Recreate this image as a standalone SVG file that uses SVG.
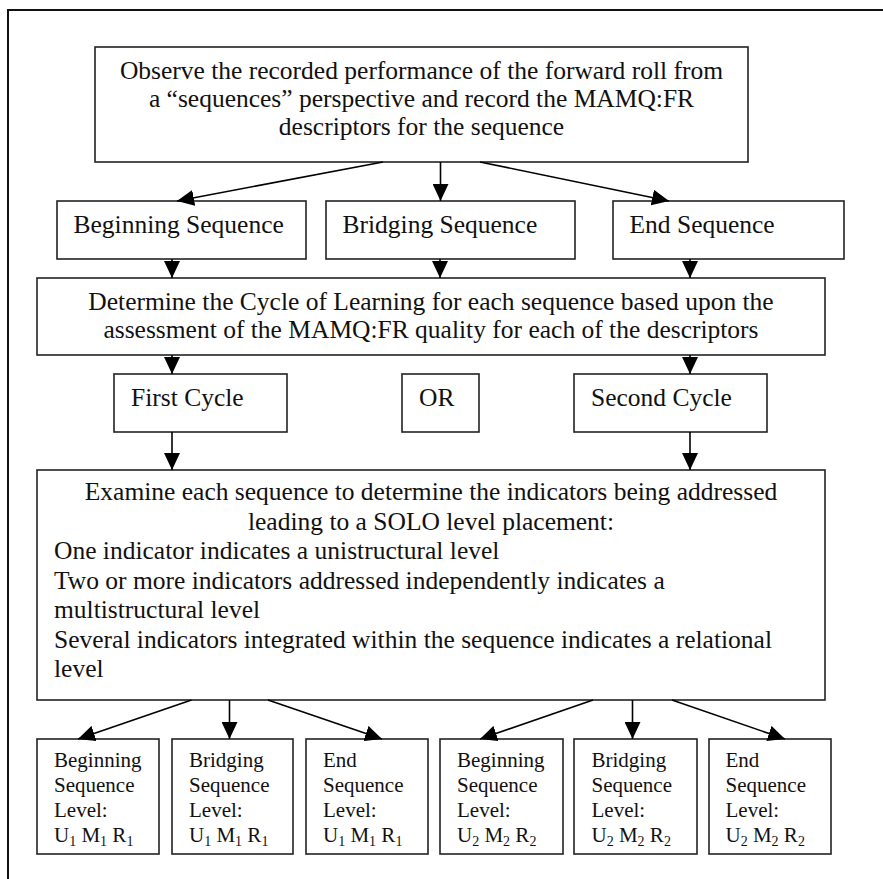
<svg xmlns="http://www.w3.org/2000/svg" width="883" height="879" viewBox="0 0 883 879">
<defs>
<marker id="ah" viewBox="0 0 17 16" markerUnits="userSpaceOnUse" markerWidth="17" markerHeight="16" refX="17" refY="8" orient="auto">
<path d="M0,0 L17,8 L0,16 z" fill="#000"/>
</marker>
<style>
.box{fill:#fff;stroke:#222;stroke-width:1.6}
.t{font-family:"Liberation Serif","Times New Roman",serif;font-size:25.5px;fill:#111}
.c{text-anchor:middle}
.s{font-family:"Liberation Serif","Times New Roman",serif;font-size:21px;fill:#111}
.sub{font-size:14px}
.arr{stroke:#000;stroke-width:1.6;fill:none;marker-end:url(#ah)}
</style>
</defs>
<rect width="883" height="879" fill="#fff"/>
<path d="M8,879 V10 H883" fill="none" stroke="#111" stroke-width="2"/>

<g id="observe">
<rect class="box" x="95" y="47" width="653" height="115"/>
<text class="t c" x="421.5" y="78.5">Observe the recorded performance of the forward roll from</text>
<text class="t c" x="421.5" y="106.8">a “sequences” perspective and record the MAMQ:FR</text>
<text class="t c" x="421.5" y="135">descriptors for the sequence</text>
</g>

<g id="beginning-seq">
<rect class="box" x="57" y="201" width="249" height="58"/>
<text class="t" x="73.5" y="232.7">Beginning Sequence</text>
</g>
<g id="bridging-seq">
<rect class="box" x="326" y="201" width="249" height="58"/>
<text class="t" x="342.5" y="232.7">Bridging Sequence</text>
</g>
<g id="end-seq">
<rect class="box" x="613" y="201" width="231" height="58"/>
<text class="t" x="629.5" y="232.7">End Sequence</text>
</g>

<g id="determine">
<rect class="box" x="37" y="278" width="788" height="77"/>
<text class="t c" x="431" y="310">Determine the Cycle of Learning for each sequence based upon the</text>
<text class="t c" x="431" y="338">assessment of the MAMQ:FR quality for each of the descriptors</text>
</g>

<g id="first-cycle">
<rect class="box" x="114" y="374" width="173" height="58"/>
<text class="t" x="131" y="406">First Cycle</text>
</g>
<g id="or">
<rect class="box" x="402" y="374" width="77" height="58"/>
<text class="t" x="419" y="406">OR</text>
</g>
<g id="second-cycle">
<rect class="box" x="574" y="374" width="193" height="58"/>
<text class="t" x="591" y="406">Second Cycle</text>
</g>

<g id="examine">
<rect class="box" x="37" y="470" width="788" height="230"/>
<text class="t c" x="431" y="500">Examine each sequence to determine the indicators being addressed</text>
<text class="t c" x="431" y="529.5">leading to a SOLO level placement:</text>
<text class="t" x="54" y="559">One indicator indicates a unistructural level</text>
<text class="t" x="54" y="588.5">Two or more indicators addressed independently indicates a</text>
<text class="t" x="54" y="618">multistructural level</text>
<text class="t" x="54" y="647.5">Several indicators integrated within the sequence indicates a relational</text>
<text class="t" x="54" y="677">level</text>
</g>

<g id="level-b1">
<rect class="box" x="37" y="739" width="122" height="115"/>
<text class="s" x="54" y="767">Beginning</text>
<text class="s" x="54" y="792">Sequence</text>
<text class="s" x="54" y="817">Level:</text>
<text class="s" x="54" y="842">U<tspan class="sub" dy="4">1</tspan><tspan dy="-4"> M</tspan><tspan class="sub" dy="4">1</tspan><tspan dy="-4"> R</tspan><tspan class="sub" dy="4">1</tspan></text>
</g>
<g id="level-br1">
<rect class="box" x="172" y="739" width="121" height="115"/>
<text class="s" x="189" y="767">Bridging</text>
<text class="s" x="189" y="792">Sequence</text>
<text class="s" x="189" y="817">Level:</text>
<text class="s" x="189" y="842">U<tspan class="sub" dy="4">1</tspan><tspan dy="-4"> M</tspan><tspan class="sub" dy="4">1</tspan><tspan dy="-4"> R</tspan><tspan class="sub" dy="4">1</tspan></text>
</g>
<g id="level-e1">
<rect class="box" x="306" y="739" width="122" height="115"/>
<text class="s" x="323" y="767">End</text>
<text class="s" x="323" y="792">Sequence</text>
<text class="s" x="323" y="817">Level:</text>
<text class="s" x="323" y="842">U<tspan class="sub" dy="4">1</tspan><tspan dy="-4"> M</tspan><tspan class="sub" dy="4">1</tspan><tspan dy="-4"> R</tspan><tspan class="sub" dy="4">1</tspan></text>
</g>
<g id="level-b2">
<rect class="box" x="440" y="739" width="123" height="115"/>
<text class="s" x="457" y="767">Beginning</text>
<text class="s" x="457" y="792">Sequence</text>
<text class="s" x="457" y="817">Level:</text>
<text class="s" x="457" y="842">U<tspan class="sub" dy="4">2</tspan><tspan dy="-4"> M</tspan><tspan class="sub" dy="4">2</tspan><tspan dy="-4"> R</tspan><tspan class="sub" dy="4">2</tspan></text>
</g>
<g id="level-br2">
<rect class="box" x="574" y="739" width="123" height="115"/>
<text class="s" x="591.5" y="767">Bridging</text>
<text class="s" x="591.5" y="792">Sequence</text>
<text class="s" x="591.5" y="817">Level:</text>
<text class="s" x="591.5" y="842">U<tspan class="sub" dy="4">2</tspan><tspan dy="-4"> M</tspan><tspan class="sub" dy="4">2</tspan><tspan dy="-4"> R</tspan><tspan class="sub" dy="4">2</tspan></text>
</g>
<g id="level-e2">
<rect class="box" x="709" y="739" width="122" height="115"/>
<text class="s" x="725.5" y="767">End</text>
<text class="s" x="725.5" y="792">Sequence</text>
<text class="s" x="725.5" y="817">Level:</text>
<text class="s" x="725.5" y="842">U<tspan class="sub" dy="4">2</tspan><tspan dy="-4"> M</tspan><tspan class="sub" dy="4">2</tspan><tspan dy="-4"> R</tspan><tspan class="sub" dy="4">2</tspan></text>
</g>

<g id="connectors">
<line class="arr" x1="383" y1="162" x2="177" y2="201"/>
<line class="arr" x1="440.5" y1="162" x2="440.5" y2="201"/>
<line class="arr" x1="480" y1="162" x2="669" y2="201"/>
<line class="arr" x1="172" y1="259" x2="172" y2="278"/>
<line class="arr" x1="440" y1="259" x2="440" y2="278"/>
<line class="arr" x1="690" y1="259" x2="690" y2="278"/>
<line class="arr" x1="172" y1="355" x2="172" y2="374"/>
<line class="arr" x1="690" y1="355" x2="690" y2="374"/>
<line class="arr" x1="172" y1="432" x2="172" y2="470"/>
<line class="arr" x1="690" y1="432" x2="690" y2="470"/>
<line class="arr" x1="191.5" y1="700" x2="78" y2="739"/>
<line class="arr" x1="229.5" y1="700" x2="229.5" y2="739"/>
<line class="arr" x1="268" y1="700" x2="382" y2="739"/>
<line class="arr" x1="593" y1="700" x2="480" y2="739"/>
<line class="arr" x1="632.5" y1="700" x2="632.5" y2="739"/>
<line class="arr" x1="672" y1="700" x2="785" y2="739"/>
</g>
</svg>
